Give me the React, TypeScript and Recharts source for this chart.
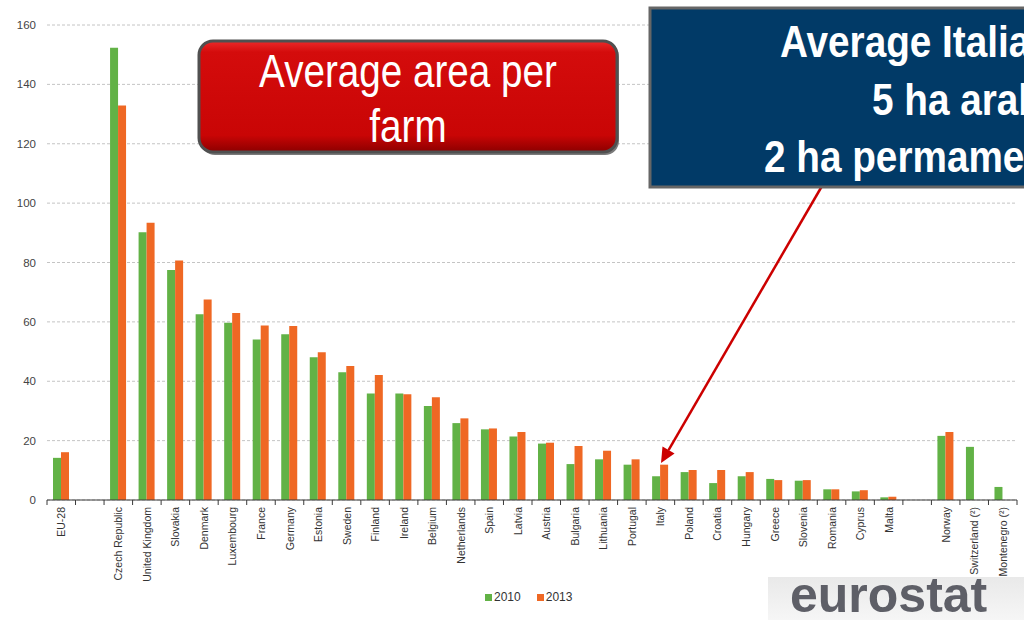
import { BarChart, Bar, XAxis, YAxis, CartesianGrid, Legend } from "recharts";

const countries = [
  "EU-28", "", "Czech Republic", "United Kingdom", "Slovakia", "Denmark", "Luxembourg",
  "France", "Germany", "Estonia", "Sweden", "Finland", "Ireland", "Belgium", "Netherlands",
  "Spain", "Latvia", "Austria", "Bulgaria", "Lithuania", "Portugal", "Italy", "Poland",
  "Croatia", "Hungary", "Greece", "Slovenia", "Romania", "Cyprus", "Malta", "",
  "Norway", "Switzerland (²)", "Montenegro (²)",
];

const area2010 = [
  14.2, null, 152.3, 90.2, 77.5, 62.6, 59.7, 54.1, 55.8, 48.1, 43.0, 35.9, 35.9, 31.7, 25.9,
  23.8, 21.4, 19.0, 12.1, 13.7, 11.9, 8.0, 9.4, 5.7, 8.0, 7.1, 6.5, 3.6, 2.9, 0.9, null,
  21.6, 17.9, 4.4,
];

const area2013 = [
  16.1, null, 132.9, 93.4, 80.7, 67.5, 63.0, 58.8, 58.6, 49.8, 45.1, 42.1, 35.6, 34.6, 27.5,
  24.1, 22.9, 19.3, 18.2, 16.6, 13.7, 11.9, 10.1, 10.1, 9.4, 6.7, 6.7, 3.6, 3.3, 1.1, null,
  22.9, null, null,
];

const yTicks = [0, 20, 40, 60, 80, 100, 120, 140, 160];

const GREEN = "#62b246";
const ORANGE = "#ef6824";
const AXIS = "#3a3a3a";
const FONT = "'Liberation Sans', Arial, sans-serif";

const W = 1024;
const H = 620;
const MARGIN = { top: 25, right: 7, left: 0, bottom: 0 };
const Y_W = 47;
const BAND = (W - MARGIN.left - MARGIN.right - Y_W) / countries.length;

const data = countries.map((c, i) => ({ country: c, y2010: area2010[i], y2013: area2013[i] }));

function CountryTick(props: any) {
  const { x, y, payload, index } = props;
  const last = index === countries.length - 1;
  return (
    <g>
      <line x1={x - BAND / 2} x2={x - BAND / 2} y1={y} y2={y + 5} stroke={AXIS} />
      {last && <line x1={x + BAND / 2} x2={x + BAND / 2} y1={y} y2={y + 5} stroke={AXIS} />}
      <text
        transform={`translate(${x + 4},${y + 7}) rotate(-90)`}
        textAnchor="end"
        fontSize={10.5}
        fill="#333"
        fontFamily={FONT}
      >
        {payload.value}
      </text>
    </g>
  );
}

function LegendContent(props: any) {
  const items = props.payload || [];
  return (
    <div style={{ display: "flex", alignItems: "center", fontFamily: FONT, fontSize: 12, color: "#333" }}>
      {items.map((it: any) => (
        <span key={it.value} style={{ display: "flex", alignItems: "center", marginRight: 16 }}>
          <span style={{ display: "inline-block", width: 7, height: 7, background: it.color, marginRight: 2 }} />
          {it.value}
        </span>
      ))}
    </div>
  );
}

function Overlay() {
  // annotation arrow from the blue box down to Italy
  const sx = 822, sy = 186, tx = 661, ty = 463;
  const len = Math.hypot(tx - sx, ty - sy);
  const ux = (tx - sx) / len, uy = (ty - sy) / len;
  const bx = tx - ux * 15, by = ty - uy * 15;
  const px = -uy * 7, py = ux * 7;

  return (
    <svg width={W} height={H} style={{ position: "absolute", left: 0, top: 0 }}>
      <defs>
        <linearGradient id="redGrad" x1="0" y1="0" x2="0" y2="1">
          <stop offset="0%" stopColor="#ec2a2a" />
          <stop offset="10%" stopColor="#d40c0c" />
          <stop offset="85%" stopColor="#c90505" />
          <stop offset="100%" stopColor="#8c0000" />
        </linearGradient>
        <linearGradient id="logoGrad" x1="0" y1="0" x2="0" y2="1">
          <stop offset="0%" stopColor="#e9e9e9" />
          <stop offset="100%" stopColor="#f6f6f6" />
        </linearGradient>
      </defs>

      <line x1={sx} y1={sy} x2={bx} y2={by} stroke="#cc0000" strokeWidth={2.5} />
      <polygon
        points={`${tx},${ty} ${bx + px},${by + py} ${bx - px},${by - py}`}
        fill="#cc0000"
      />

      <rect x={201} y={43} width={418} height={112} rx={14} fill="#7a7a7a" />
      <rect x={199} y={41} width={418} height={111} rx={14} fill="url(#redGrad)" stroke="#505050" strokeWidth={3} />
      <g fill="#fff" fontFamily={FONT} fontSize={46} textAnchor="middle">
        <text transform="translate(408,87) scale(0.84,1)">Average area per</text>
        <text transform="translate(408,142) scale(0.84,1)">farm</text>
      </g>

      <rect x={650} y={8} width={420} height={179} fill="#013a67" stroke="#666" strokeWidth={3} />
      <g fill="#fff" fontFamily={FONT} fontSize={44} fontWeight="bold">
        <text transform="translate(780,57) scale(0.88,1)">Average Italian</text>
        <text transform="translate(872,115) scale(0.88,1)">5 ha arable</text>
        <text transform="translate(764,172) scale(0.88,1)">2 ha permament</text>
      </g>

      <rect x={768} y={577} width={256} height={43} fill="url(#logoGrad)" />
      <text x={790} y={612} fontFamily={FONT} fontSize={50} fontWeight="bold" fill="#5e5f67">
        eurostat
      </text>
    </svg>
  );
}

export default function App() {
  return (
    <div style={{ position: "absolute", left: 0, top: 0, width: W, height: H, background: "#fff", overflow: "hidden" }}>
      <BarChart width={W} height={H} data={data} margin={MARGIN} barSize={8} barGap={0}>
        <CartesianGrid vertical={false} stroke="#c4c4c4" strokeDasharray="3 2" />
        <XAxis
          dataKey="country"
          interval={0}
          height={100}
          tickSize={0}
          tickMargin={0}
          tickLine={false}
          axisLine={{ stroke: AXIS }}
          tick={<CountryTick />}
        />
        <YAxis
          width={Y_W}
          domain={[0, 160]}
          ticks={yTicks}
          axisLine={false}
          tickLine={false}
          tickMargin={5}
          tick={{ fontSize: 11.5, fill: "#444", fontFamily: FONT }}
        />
        <Legend
          verticalAlign="bottom"
          content={<LegendContent />}
          wrapperStyle={{ left: 485, width: "auto", bottom: 10, height: 20 }}
        />
        <Bar dataKey="y2010" name="2010" fill={GREEN} isAnimationActive={false} />
        <Bar dataKey="y2013" name="2013" fill={ORANGE} isAnimationActive={false} />
      </BarChart>
      <Overlay />
    </div>
  );
}
